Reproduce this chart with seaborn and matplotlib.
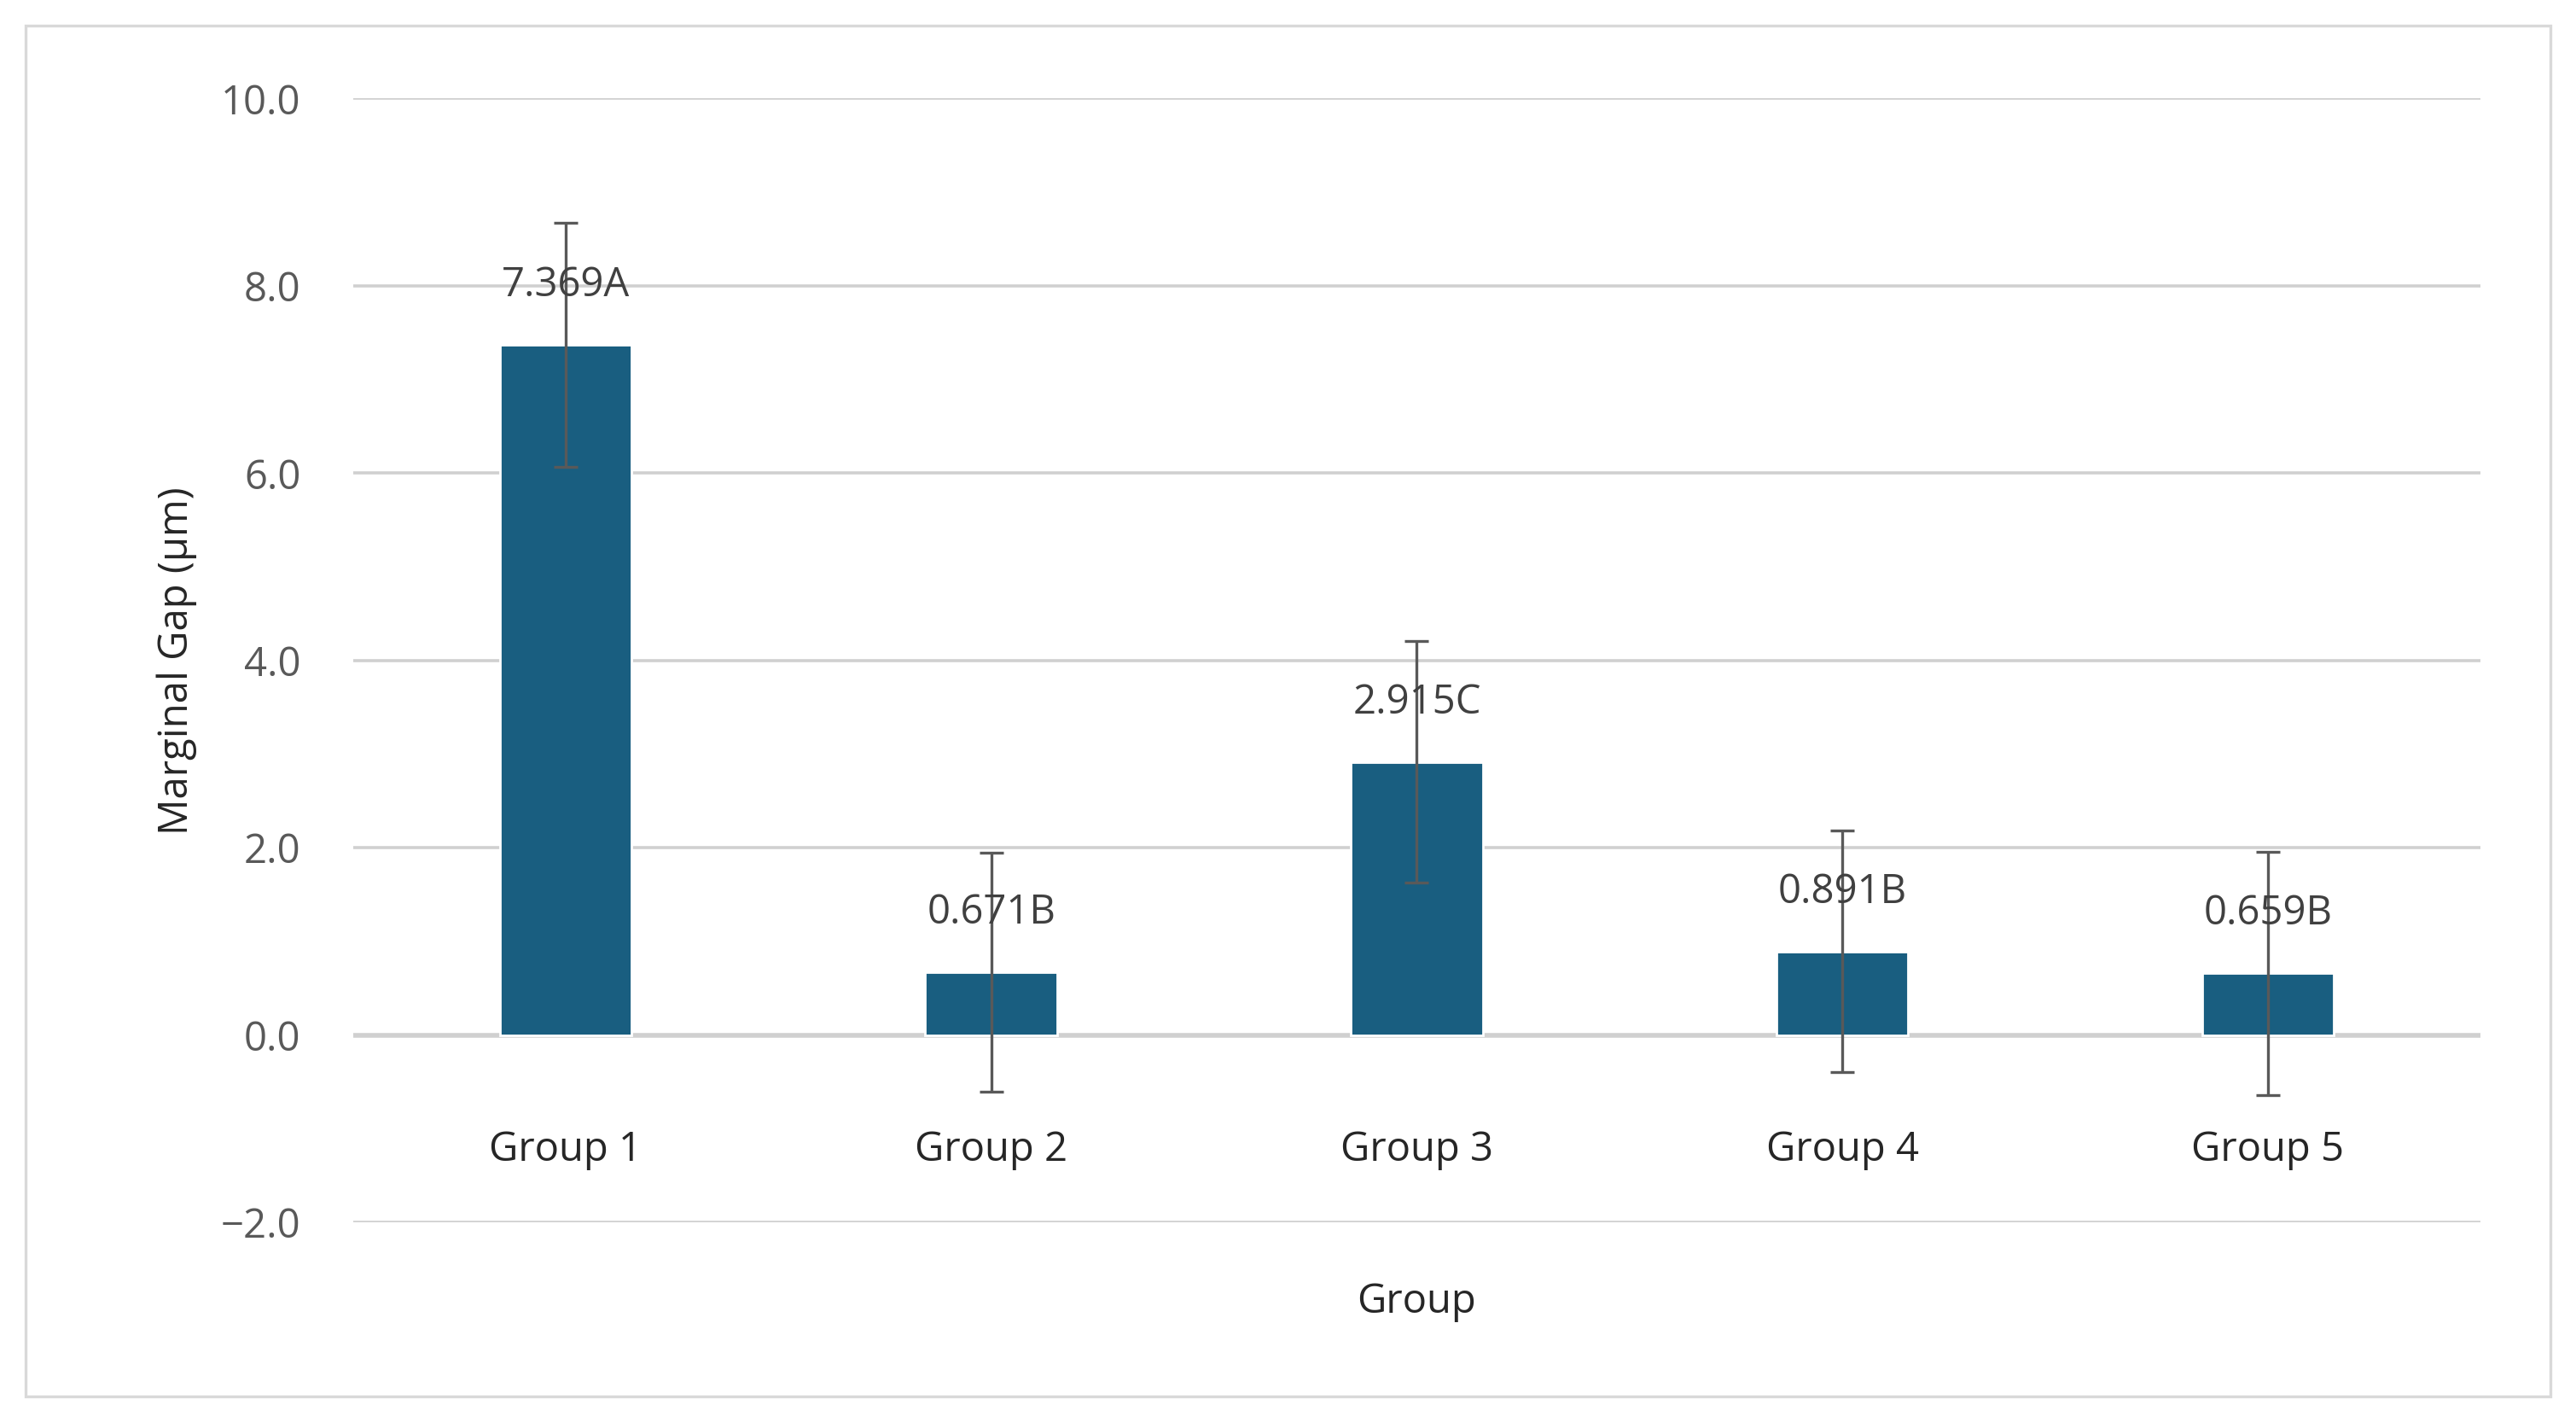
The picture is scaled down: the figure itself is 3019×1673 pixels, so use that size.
import matplotlib
matplotlib.use("Agg")
import matplotlib.pyplot as plt
import seaborn as sns
import pandas as pd
from matplotlib.patches import Rectangle

groups = ["Group 1", "Group 2", "Group 3", "Group 4", "Group 5"]
means = [7.369, 0.671, 2.915, 0.891, 0.659]
sds = [1.30, 1.28, 1.29, 1.29, 1.30]
letters = ["A", "B", "C", "B", "B"]
yticks = [-2.0, 0.0, 2.0, 4.0, 6.0, 8.0, 10.0]

df = pd.DataFrame({"Group": groups, "Mean": means})
sns.set_theme(style="white")
plt.rcParams['font.family'] = ['Open Sans', 'DejaVu Sans']
grey = "#595959"
fs = 17

fig = plt.figure(figsize=(15.095, 8.365), dpi=200)
fig.patches.append(Rectangle((0.010, 0.022), 0.980, 0.960, transform=fig.transFigure,
                             fill=False, edgecolor="#d9d9d9", lw=1.2))
ax = fig.add_axes([0.137, 0.144, 0.826, 0.787])
sns.barplot(data=df, x="Group", y="Mean", color="#195e80", width=0.31, ax=ax,
            saturation=1, zorder=3)
ax.errorbar(range(len(groups)), means, yerr=sds, fmt="none", ecolor=grey,
            elinewidth=1.2, capsize=5, capthick=1.2, zorder=4)
for i, (m, l) in enumerate(zip(means, letters)):
    ax.text(i, m + 0.42, f"{m:.3f}{l}", ha="center", va="bottom", fontsize=fs, color="#404040", zorder=5)
ax.set_ylim(-2, 10)
ax.set_xlim(-0.5, 4.5)
ax.set_yticks(yticks)
ax.set_yticklabels(["\u22122.0"] + [f"{v:.1f}" for v in yticks[1:]], fontsize=fs, color=grey)
ax.yaxis.grid(True, color="#d0d0d0", lw=1.3, zorder=0)
ax.axhline(0, color="#d0d0d0", lw=2.0, zorder=2)
ax.set_xticks([])
for i, g in enumerate(groups):
    ax.text(i, -1.23, g, ha="center", va="center", fontsize=fs, color="#262626")
for s in ax.spines.values():
    s.set_visible(False)
ax.tick_params(axis="y", length=0, pad=22)
ax.set_ylabel("Marginal Gap (μm)", fontsize=fs, color="#262626", labelpad=10)
ax.set_xlabel("Group", fontsize=fs, color="#262626", labelpad=25)
fig.savefig("out.png", dpi=200)
